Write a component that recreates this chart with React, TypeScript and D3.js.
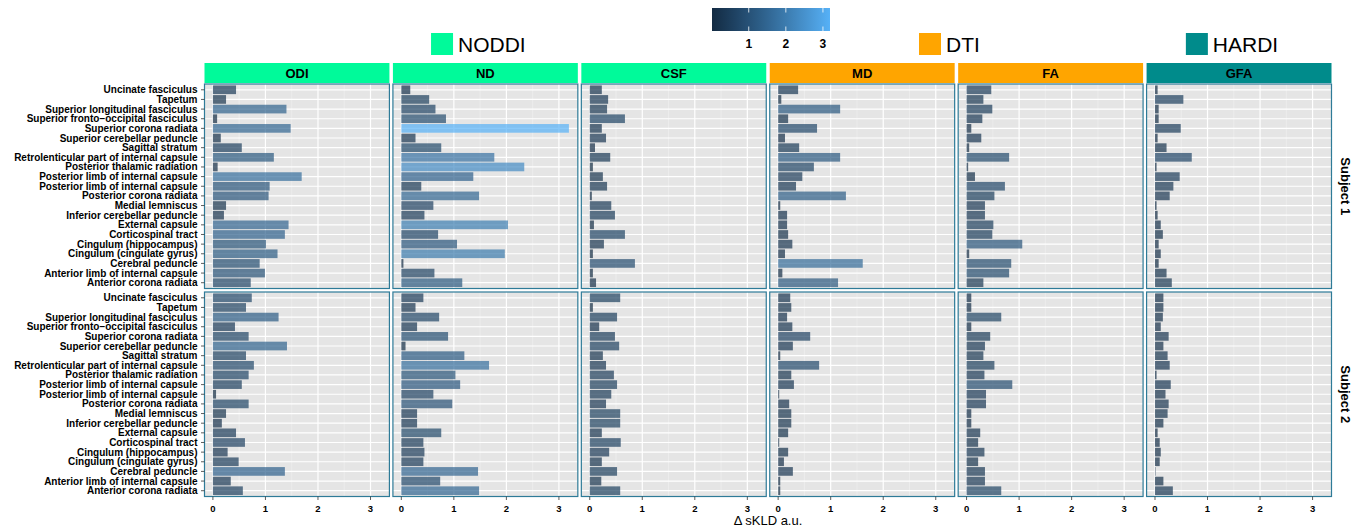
import React, { useEffect, useRef } from 'react';
import * as d3 from 'd3';

const width = 1357;
const height = 531;

const tracts = [
  'Uncinate fasciculus',
  'Tapetum',
  'Superior longitudinal fasciculus',
  'Superior fronto\u2212occipital fasciculus',
  'Superior corona radiata',
  'Superior cerebellar peduncle',
  'Sagittal stratum',
  'Retrolenticular part of internal capsule',
  'Posterior thalamic radiation',
  'Posterior limb of internal capsule',
  'Posterior limb of internal capsule',
  'Posterior corona radiata',
  'Medial lemniscus',
  'Inferior cerebellar peduncle',
  'External capsule',
  'Corticospinal tract',
  'Cingulum (hippocampus)',
  'Cingulum (cingulate gyrus)',
  'Cerebral peduncle',
  'Anterior limb of internal capsule',
  'Anterior corona radiata',
];

const measures = ['ODI', 'ND', 'CSF', 'MD', 'FA', 'GFA'];
const measureGroup = ['NODDI', 'NODDI', 'NODDI', 'DTI', 'DTI', 'HARDI'];
const groups = ['NODDI', 'DTI', 'HARDI'];
const groupColors = ['#00FA9A', '#FFA500', '#008B8B'];
const subjects = ['Subject 1', 'Subject 2'];
const xTicks = [0, 1, 2, 3];
const legendTicks = [1, 2, 3];

// Subject 1, one value per tract (same order as tracts)
const s1ODI = [0.44, 0.25, 1.4, 0.08, 1.48, 0.15, 0.55, 1.16, 0.09, 1.69, 1.08, 1.06, 0.25, 0.21, 1.44, 1.37, 1.01, 1.23, 0.89, 0.99, 0.72];
const s1ND = [0.17, 0.53, 0.65, 0.85, 3.19, 0.27, 0.76, 1.77, 2.34, 1.37, 0.38, 1.48, 0.61, 0.44, 2.03, 0.7, 1.06, 1.97, 0.04, 0.63, 1.16];
const s1CSF = [0.23, 0.35, 0.33, 0.67, 0.23, 0.31, 0.1, 0.39, 0.06, 0.25, 0.33, 0.04, 0.41, 0.48, 0.08, 0.67, 0.27, 0.06, 0.86, 0.06, 0.12];
const s1MD = [0.38, 0.06, 1.18, 0.19, 0.74, 0.13, 0.4, 1.18, 0.68, 0.46, 0.34, 1.29, 0.04, 0.17, 0.17, 0.19, 0.27, 0.13, 1.61, 0.08, 1.14];
const s1FA = [0.47, 0.32, 0.49, 0.3, 0.09, 0.28, 0.05, 0.81, 0.03, 0.16, 0.73, 0.53, 0.35, 0.35, 0.51, 0.49, 1.06, 0.05, 0.85, 0.81, 0.32];
const s1GFA = [0.05, 0.54, 0.07, 0.07, 0.49, 0.05, 0.22, 0.7, 0.03, 0.47, 0.35, 0.28, 0.03, 0.05, 0.11, 0.15, 0.07, 0.11, 0.07, 0.22, 0.32];

// Subject 2
const s2ODI = [0.74, 0.63, 1.25, 0.42, 0.68, 1.41, 0.63, 0.78, 0.68, 0.55, 0.06, 0.68, 0.25, 0.17, 0.44, 0.61, 0.28, 0.49, 1.37, 0.34, 0.57];
const s2ND = [0.42, 0.27, 0.72, 0.3, 0.89, 0.08, 1.2, 1.67, 1.03, 1.12, 0.61, 0.97, 0.3, 0.3, 0.76, 0.42, 0.44, 0.42, 1.46, 0.74, 1.48];
const s2CSF = [0.58, 0.06, 0.52, 0.18, 0.48, 0.56, 0.25, 0.31, 0.46, 0.52, 0.41, 0.31, 0.58, 0.58, 0.23, 0.59, 0.37, 0.23, 0.52, 0.22, 0.58];
const s2MD = [0.23, 0.25, 0.17, 0.27, 0.61, 0.28, 0.04, 0.78, 0.25, 0.3, 0.02, 0.21, 0.25, 0.25, 0.19, 0.02, 0.19, 0.11, 0.28, 0.04, 0.04];
const s2FA = [0.09, 0.09, 0.66, 0.09, 0.45, 0.35, 0.32, 0.53, 0.34, 0.87, 0.37, 0.37, 0.09, 0.09, 0.26, 0.22, 0.34, 0.22, 0.35, 0.35, 0.66];
const s2GFA = [0.16, 0.16, 0.15, 0.11, 0.26, 0.16, 0.24, 0.28, 0.03, 0.3, 0.2, 0.26, 0.24, 0.16, 0.05, 0.09, 0.11, 0.09, 0.01, 0.16, 0.34];

const values = [
  [s1ODI, s1ND, s1CSF, s1MD, s1FA, s1GFA],
  [s2ODI, s2ND, s2CSF, s2MD, s2FA, s2GFA],
];

const font = 'Liberation Sans, Arial, Helvetica, sans-serif';

const App = () => {
  const svgRef = useRef<SVGSVGElement>(null);

  useEffect(() => {
    const svg = d3.select(svgRef.current);
    svg.selectAll('*').remove();

    const left = 204.5;
    const right = 1331.5;
    const gapX = 3.5;
    const top = 84;
    const panelH = 204.5;
    const gapY = 3.5;
    const stripH = 20;
    const panelW = (right - left - gapX * (measures.length - 1)) / measures.length;

    const all = values.flat(2);
    const vmin = d3.min(all) as number;
    const vmax = d3.max(all) as number;
    const color = d3.scaleLinear<string>().domain([vmin, vmax]).range(['#132B43', '#56B1F7']).interpolate(d3.interpolateLab);

    const x = d3.scaleLinear().domain([-0.16, 3.36]).range([0, panelW]);
    const idx = tracts.map((_, i) => String(i));
    const y = d3.scalePoint().domain(idx).range([0, panelH]).padding(0.6);
    const bandH = y.step() * 0.9;

    const root = svg.append('g').attr('font-family', font);

    measures.forEach((m, c) => {
      const px = left + c * (panelW + gapX);
      const gi = groups.indexOf(measureGroup[c]);
      // strip
      root.append('rect')
        .attr('x', px).attr('y', top - stripH - 1)
        .attr('width', panelW).attr('height', stripH)
        .attr('fill', groupColors[gi]);
      root.append('text')
        .attr('x', px + panelW / 2).attr('y', top - stripH / 2 - 1)
        .attr('dy', '0.36em')
        .attr('text-anchor', 'middle')
        .attr('font-size', 13).attr('font-weight', 'bold')
        .text(m);

      subjects.forEach((s, r) => {
        const py = top + r * (panelH + gapY);
        const g = root.append('g').attr('transform', `translate(${px},${py})`);
        g.append('rect').attr('width', panelW).attr('height', panelH).attr('fill', '#E5E5E5');

        // minor grid
        g.selectAll('.minor').data([0.5, 1.5, 2.5]).enter().append('line')
          .attr('x1', d => x(d)).attr('x2', d => x(d))
          .attr('y1', 0).attr('y2', panelH)
          .attr('stroke', '#F2F2F2').attr('stroke-width', 0.6);
        g.selectAll('.majorx').data(xTicks).enter().append('line')
          .attr('x1', d => x(d)).attr('x2', d => x(d))
          .attr('y1', 0).attr('y2', panelH)
          .attr('stroke', '#FFFFFF').attr('stroke-width', 1.2);
        g.selectAll('.majory').data(idx).enter().append('line')
          .attr('x1', 0).attr('x2', panelW)
          .attr('y1', d => y(d) as number).attr('y2', d => y(d) as number)
          .attr('stroke', '#FFFFFF').attr('stroke-width', 1.2);

        const vals = values[r][c];
        g.selectAll('.bar').data(vals).enter().append('rect')
          .attr('x', x(0))
          .attr('y', (_, i) => (y(String(i)) as number) - bandH / 2)
          .attr('width', d => x(d) - x(0))
          .attr('height', bandH)
          .attr('fill', d => color(d))
          .attr('fill-opacity', 0.7);

        g.append('rect').attr('width', panelW).attr('height', panelH)
          .attr('fill', 'none').attr('stroke', '#2E7B98').attr('stroke-width', 1.2);

        if (c === 0) {
          const ax = g.append('g');
          idx.forEach((d, i) => {
            const yy = y(d) as number;
            ax.append('line').attr('x1', -3.5).attr('x2', 0).attr('y1', yy).attr('y2', yy)
              .attr('stroke', '#333').attr('stroke-width', 0.8);
            ax.append('text').attr('x', -7).attr('y', yy).attr('dy', '0.35em')
              .attr('text-anchor', 'end').attr('font-size', 10).attr('font-weight', 'bold')
              .text(tracts[i]);
          });
        }
        if (r === subjects.length - 1) {
          xTicks.forEach(t => {
            g.append('line').attr('x1', x(t)).attr('x2', x(t)).attr('y1', panelH).attr('y2', panelH + 3.5)
              .attr('stroke', '#333').attr('stroke-width', 0.8);
            g.append('text').attr('x', x(t)).attr('y', panelH + 15)
              .attr('text-anchor', 'middle').attr('font-size', 9.5).attr('font-weight', 'bold')
              .text(t);
          });
        }
        if (c === measures.length - 1) {
          g.append('text')
            .attr('transform', `translate(${panelW + 14},${panelH / 2}) rotate(90)`)
            .attr('text-anchor', 'middle').attr('dy', '0.35em')
            .attr('font-size', 13).attr('font-weight', 'bold')
            .text(s);
        }
      });
    });

    // x title
    root.append('text')
      .attr('x', (left + right) / 2).attr('y', 525)
      .attr('text-anchor', 'middle').attr('font-size', 13)
      .text('\u0394 sKLD a.u.');

    // group legend
    groups.forEach((gname, gi) => {
      const cols = measures.map((_, i) => i).filter(i => measureGroup[i] === gname);
      const x0 = left + cols[0] * (panelW + gapX);
      const x1 = left + cols[cols.length - 1] * (panelW + gapX) + panelW;
      const item = root.append('g');
      item.append('rect').attr('x', 0).attr('y', 33).attr('width', 22).attr('height', 22)
        .attr('fill', groupColors[gi]);
      const t = item.append('text').attr('x', 27).attr('y', 52)
        .attr('font-size', 21).text(gname);
      const tw = (t.node() as SVGTextElement).getComputedTextLength();
      const total = 27 + tw;
      item.attr('transform', `translate(${(x0 + x1) / 2 - total / 2 - 7},0)`);
    });

    // colour bar
    const barW = 118;
    const barX = 712;
    const lx = d3.scaleLinear().domain([vmin, vmax]).range([barX, barX + barW]);
    const defs = svg.append('defs');
    const grad = defs.append('linearGradient').attr('id', 'cbar');
    d3.range(0, 1.0001, 0.1).forEach(f => {
      grad.append('stop').attr('offset', `${f * 100}%`).attr('stop-color', color(vmin + f * (vmax - vmin)));
    });
    root.append('rect').attr('x', barX).attr('y', 8).attr('width', barW).attr('height', 23)
      .attr('fill', 'url(#cbar)');
    legendTicks.forEach(t => {
      root.append('line').attr('x1', lx(t)).attr('x2', lx(t)).attr('y1', 8).attr('y2', 12.5)
        .attr('stroke', '#fff').attr('stroke-width', 0.8);
      root.append('line').attr('x1', lx(t)).attr('x2', lx(t)).attr('y1', 26.5).attr('y2', 31)
        .attr('stroke', '#fff').attr('stroke-width', 0.8);
      root.append('text').attr('x', lx(t)).attr('y', 48)
        .attr('text-anchor', 'middle').attr('font-size', 12).attr('font-weight', 'bold')
        .text(t);
    });
  }, []);

  return (
    <svg ref={svgRef} width={width} height={height}
      style={{ position: 'absolute', left: 0, top: 0, background: '#fff' }} />
  );
};

export default App;
